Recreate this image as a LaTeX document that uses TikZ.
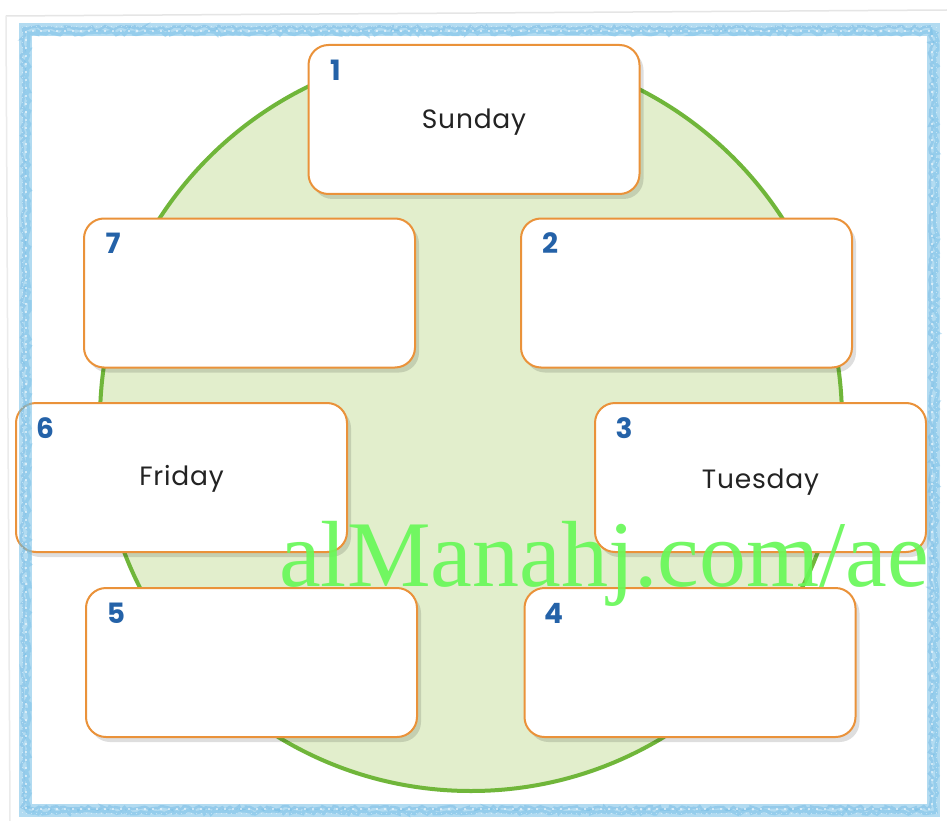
\documentclass[tikz,border=0pt]{standalone}
\usepackage{fontspec}
\setmainfont{Poppins}[LetterSpace=3]
\newfontfamily\wmfont{Liberation Serif}
\usetikzlibrary{shadows,decorations.pathmorphing,calc}
\definecolor{frameblue}{RGB}{115,190,230}
\definecolor{framedark}{RGB}{80,165,218}
\definecolor{circfill}{RGB}{226,238,204}
\definecolor{circline}{RGB}{112,182,58}
\definecolor{boxline}{RGB}{234,146,58}
\definecolor{numblue}{RGB}{36,98,168}
\definecolor{wmgreen}{RGB}{104,248,88}
\definecolor{daytext}{RGB}{35,35,35}
\begin{document}
\begin{tikzpicture}[x=1pt,y=-1pt,
  daybox/.style={draw=boxline, line width=2pt, fill=white, rounded corners=20pt,
    minimum width=331pt, minimum height=149pt, inner sep=0pt,
    drop shadow={shadow xshift=4pt, shadow yshift=-5pt, opacity=0.13, fill=black},
    font=\fontsize{26.5}{30}\selectfont, text=daytext},
  numlabel/.style={font=\bfseries\fontsize{28}{30}\selectfont, text=numblue, inner sep=0pt},
  crayon/.style={decorate, decoration={random steps, segment length=3pt, amplitude=2pt}},
]
\useasboundingbox (0,0) rectangle (947,821);
\fill[white] (0,0) rectangle (947,821);
% paper edge
\draw[gray!20, line width=1.5pt] (6,16) -- (947,10);
\draw[gray!16, line width=1.5pt] (6,16) -- (10,821);

% big circle
\node[circle, draw=circline, fill=circfill, line width=4pt, minimum size=742pt, inner sep=0pt] (ring) at (471,420) {};

% boxes
\node[daybox] (b1) at (474,119.5) {\raisebox{-3pt}[\height][\depth]{Sunday}};
\node[daybox] (b7) at (249.5,293) {};
\node[daybox] (b2) at (686.5,293) {};
\node[daybox] (b6) at (181.5,477.5) {\raisebox{-1pt}[\height][\depth]{Friday}};
\node[daybox] (b3) at (760.5,477.5) {\raisebox{-5pt}[\height][\depth]{Tuesday}};
\node[daybox] (b5) at (251.5,662.5) {};
\node[daybox] (b4) at (690,662.5) {};

% numbers
\node[numlabel] (n1) at ($(b1.north west)+(28,26)$) {1};
\node[numlabel] (n7) at ($(b7.north west)+(30,26)$) {7};
\node[numlabel] (n2) at ($(b2.north west)+(30,26)$) {2};
\node[numlabel] (n6) at ($(b6.north west)+(30,26)$) {6};
\node[numlabel] (n3) at ($(b3.north west)+(30,26)$) {3};
\node[numlabel] (n5) at ($(b5.north west)+(31,26)$) {5};
\node[numlabel] (n4) at ($(b4.north west)+(30,26)$) {4};

% watermark
\node[font=\wmfont\fontsize{94}{94}\selectfont, text=wmgreen, text opacity=0.92, anchor=base west, inner sep=0pt] (wm) at (279,586) {alManahj.com/ae};

% crayon frame
\draw[frameblue, line width=13pt, opacity=0.55] (25,30) rectangle (933,810);
\draw[framedark, line width=2.5pt, opacity=0.3, crayon] (23,28) rectangle (931,808);
\draw[frameblue, line width=3.5pt, opacity=0.45, crayon] (28,33) rectangle (936,812);
\draw[white, line width=1.2pt, opacity=0.55, dash pattern=on 2pt off 6pt] (26,31) rectangle (932,809);
\draw[white, line width=1pt, opacity=0.45, dash pattern=on 1pt off 4pt] (22,27) rectangle (936,813);
\end{tikzpicture}
\end{document}
